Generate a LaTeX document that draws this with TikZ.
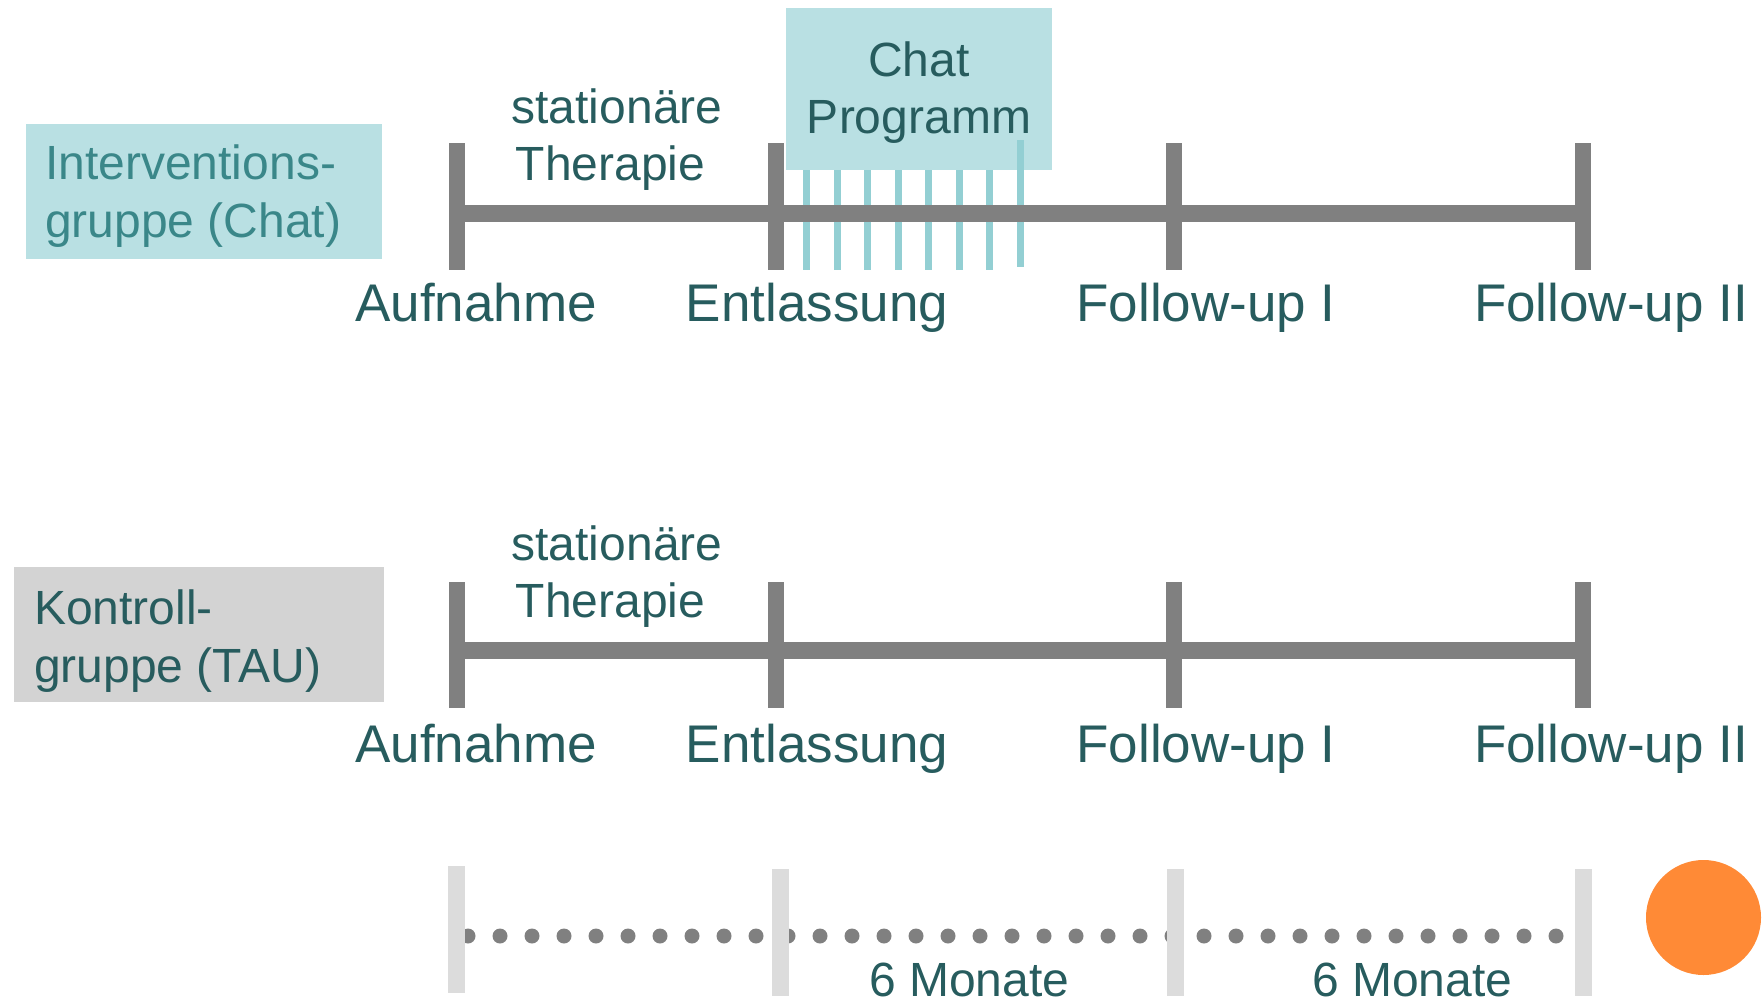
\documentclass[tikz,border=0pt]{standalone}
\usepackage{fontspec}
\setmainfont{Liberation Sans}
\definecolor{tealtext}{HTML}{275C5E}
\definecolor{tealsoft}{HTML}{3A8789}
\definecolor{chatfill}{HTML}{B9E0E3}
\definecolor{chatline}{HTML}{93CFD3}
\definecolor{bargrey}{HTML}{808080}
\definecolor{taufill}{HTML}{D3D3D3}
\definecolor{scalegrey}{HTML}{DCDCDC}
\definecolor{markerorange}{HTML}{FF8A36}

\begin{document}
\begin{tikzpicture}[x=1pt,y=-1pt,
  bar/.style={draw=bargrey,line width=17pt},
  tickmark/.style={draw=bargrey,line width=16pt},
  scaletick/.style={draw=scalegrey,line width=17pt},
  chatpulse/.style={draw=chatline,line width=7pt},
  pointlabel/.style={font=\fontsize{53}{60}\selectfont,text=tealtext,inner sep=0pt,anchor=base},
  note/.style={font=\fontsize{48}{57}\selectfont,text=tealtext,inner sep=0pt,align=center,anchor=base},
  grouplabel/.style={font=\fontsize{48}{58}\selectfont,inner sep=0pt,align=left,anchor=base west},
  panel/.style={inner sep=0pt,anchor=north west}]

\useasboundingbox (0,0) rectangle (1762,1001);

% ---------- intervention group ----------
% (multi-line labels are placed by the baseline of their last line)
\node[panel,fill=chatfill,minimum width=356pt,minimum height=135pt] (intbox) at (26,124) {};
\node[grouplabel,text=tealsoft] (inttext) at (45,237) {Interventions-\\gruppe (Chat)};

\node[panel,fill=chatfill,minimum width=266pt,minimum height=162pt] (chatbox) at (786,8) {};
\node[note] (chattext) at (919,133) {Chat\\Programm};

% chat sessions after discharge
\foreach \i in {0,...,6}
  \draw[chatpulse] ({806.5+30.5*\i},170) -- ({806.5+30.5*\i},270);
\draw[chatpulse] (1020,140) -- (1020,267);

\foreach \n/\x in {a1/457,a2/776,a3/1174,a4/1583}
  \coordinate (\n) at (\x,213.5);
\draw[bar] (a1) -- (a4);
\foreach \x in {457,776,1174,1583}
  \draw[tickmark] (\x,143) -- (\x,270);

\node[note] (stat1) at (617,180) {stationäre\\Therapie\hspace*{13pt}};
\node[pointlabel] (la1) at (476,321) {Aufnahme};
\node[pointlabel] (la2) at (817,321) {Entlassung};
\node[pointlabel] (la3) at (1206,321) {Follow-up I};
\node[pointlabel] (la4) at (1611,321) {Follow-up II};

% ---------- control group ----------
\node[panel,fill=taufill,minimum width=370pt,minimum height=135pt] (taubox) at (14,567) {};
\node[grouplabel,text=tealtext] (tautext) at (34,682) {Kontroll-\\gruppe (TAU)};

\foreach \n/\x in {b1/457,b2/776,b3/1174,b4/1583}
  \coordinate (\n) at (\x,650.5);
\draw[bar] (b1) -- (b4);
\foreach \x in {457,776,1174,1583}
  \draw[tickmark] (\x,582) -- (\x,708);

\node[note] (stat2) at (617,617) {stationäre\\Therapie\hspace*{13pt}};
\node[pointlabel] (lb1) at (476,762) {Aufnahme};
\node[pointlabel] (lb2) at (817,762) {Entlassung};
\node[pointlabel] (lb3) at (1206,762) {Follow-up I};
\node[pointlabel] (lb4) at (1611,762) {Follow-up II};

% ---------- time scale ----------
\coordinate (s0) at (468,936);
\coordinate (s1) at (1557,936);
\draw[draw=bargrey,line width=15pt,line cap=round,dash pattern=on 0pt off 32pt] (s0) -- (s1);
\draw[scaletick] (456.5,866) -- (456.5,993);
\foreach \x in {780,1175,1583.5}
  \draw[scaletick] (\x,869) -- (\x,996);

\node[note,anchor=base west] (m1) at (869,996) {6 Monate};
\node[note,anchor=base west] (m2) at (1312,996) {6 Monate};

\node[circle,fill=markerorange,minimum size=115pt,inner sep=0pt] (marker) at (1703.5,917.5) {};
\end{tikzpicture}
\end{document}
